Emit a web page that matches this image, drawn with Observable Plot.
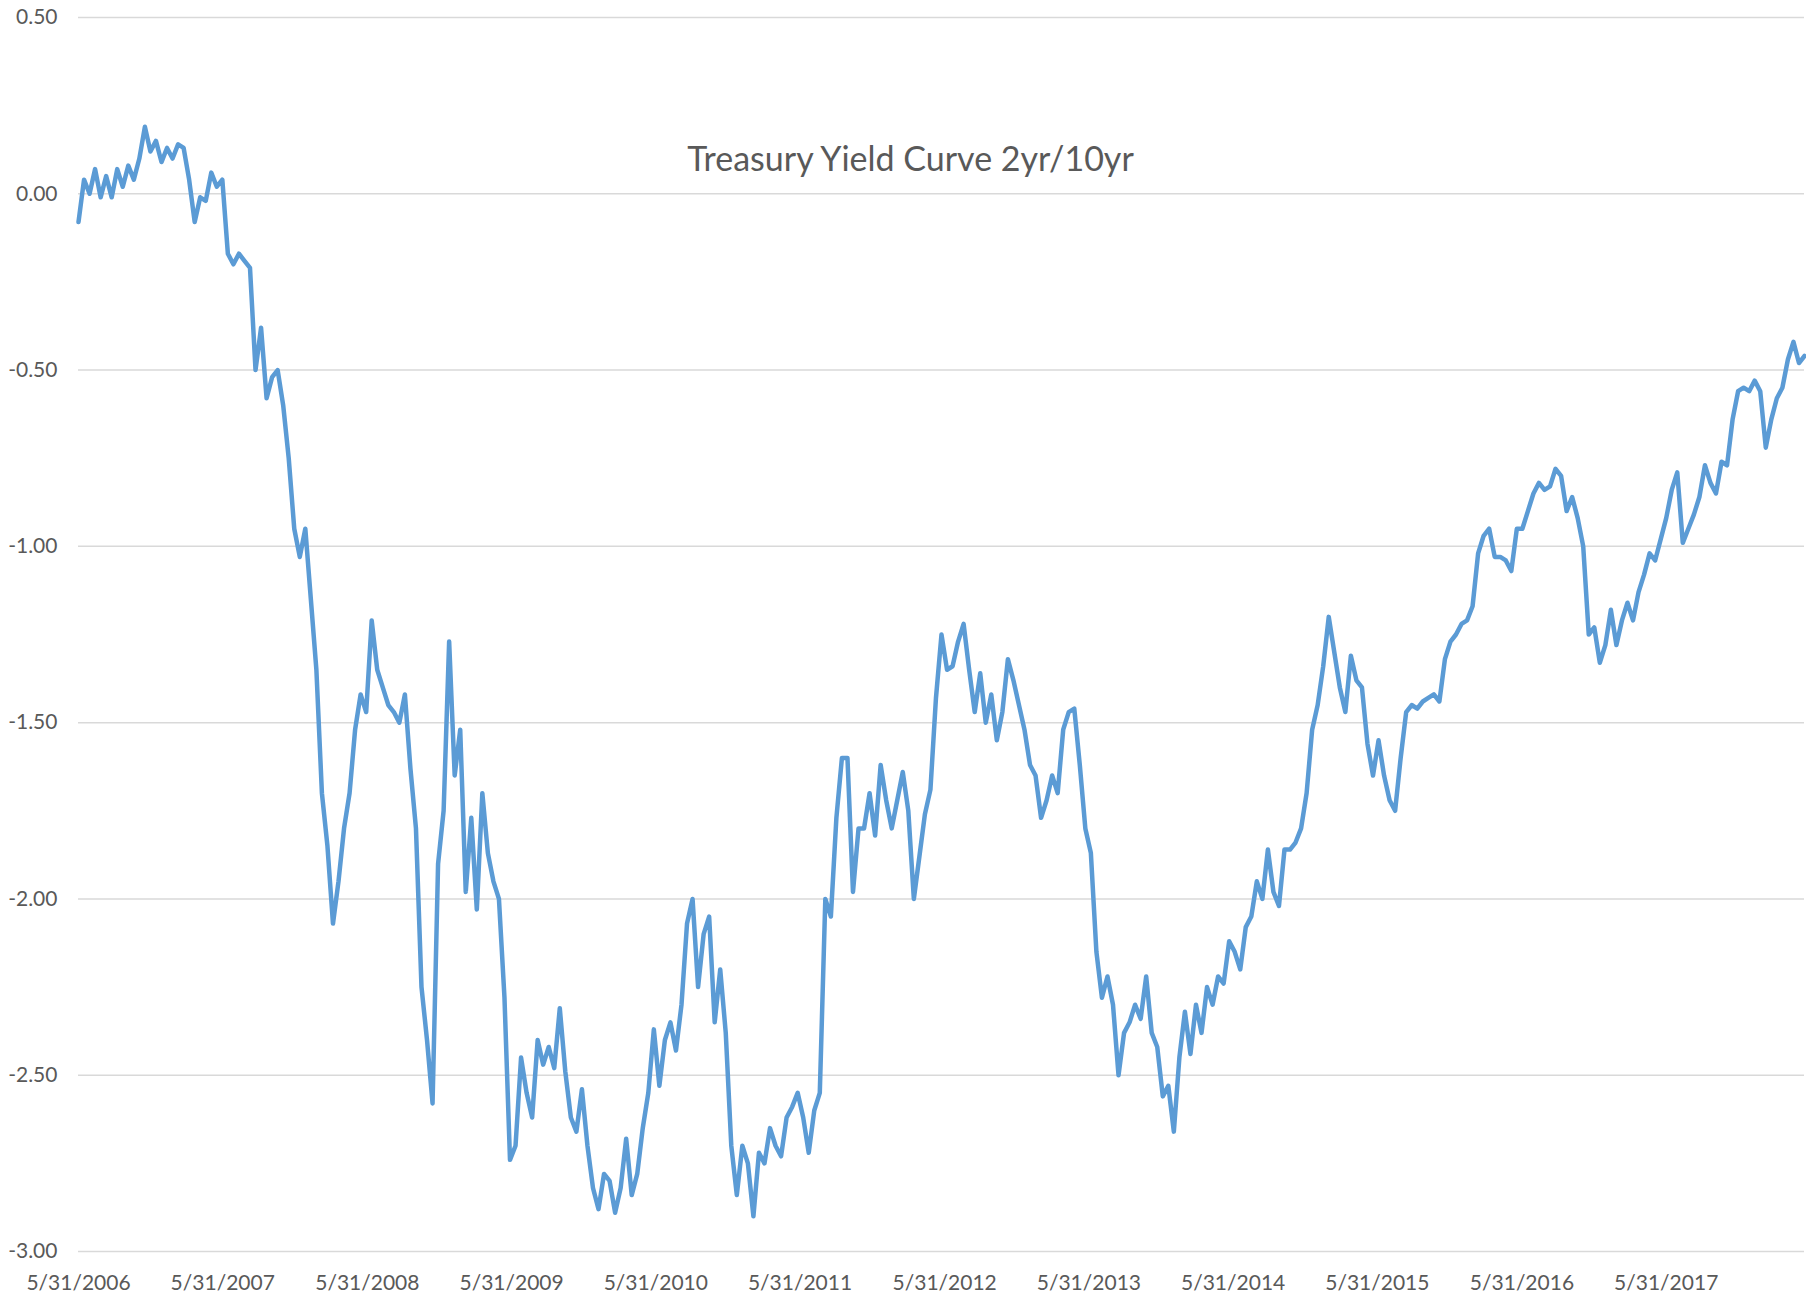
<!DOCTYPE html>
<html>
<head>
<meta charset="utf-8">
<script src="https://cdn.jsdelivr.net/npm/d3@7"></script>
<script src="https://cdn.jsdelivr.net/npm/@observablehq/plot@0.6"></script>
<style>
  html, body { margin: 0; padding: 0; background: #ffffff; }
  #chart { width: 1806px; height: 1297px; }
</style>
</head>
<body>
<div id="chart"></div>
<script>
const title = "Treasury Yield Curve 2yr/10yr";
const startDate = "2006-05-31";
const stepDays = 14;
const xTickLabels = ["2006-05-31","2007-05-31","2008-05-31","2009-05-31","2010-05-31","2011-05-31",
  "2012-05-31","2013-05-31","2014-05-31","2015-05-31","2016-05-31","2017-05-31"];
const yTicks = [0.5, 0, -0.5, -1, -1.5, -2, -2.5, -3];
const yDomain = [-3, 0.5];

// spread values, read every two weeks from the picture
const values = [
  // 2006-07
  -0.08, 0.04, 0.00, 0.07, -0.01, 0.05, -0.01, 0.07, 0.02, 0.08, 0.04, 0.10, 0.19, 0.12, 0.15, 0.09, 0.13, 0.10, 0.14, 0.13, 0.04, -0.08, -0.01, -0.02, 0.06, 0.02,
  // 2007-08
  0.04, -0.17, -0.20, -0.17, -0.19, -0.21, -0.50, -0.38, -0.58, -0.52, -0.50, -0.60, -0.75, -0.95, -1.03, -0.95, -1.15, -1.35, -1.70, -1.85, -2.07, -1.95, -1.80, -1.70, -1.52, -1.42,
  // 2008-09
  -1.47, -1.21, -1.35, -1.40, -1.45, -1.47, -1.50, -1.42, -1.63, -1.80, -2.25, -2.40, -2.58, -1.90, -1.75, -1.27, -1.65, -1.52, -1.98, -1.77, -2.03, -1.70, -1.87, -1.95, -2.00, -2.28,
  // 2009-10
  -2.74, -2.70, -2.45, -2.55, -2.62, -2.40, -2.47, -2.42, -2.48, -2.31, -2.49, -2.62, -2.66, -2.54, -2.70, -2.82, -2.88, -2.78, -2.80, -2.89, -2.82, -2.68, -2.84, -2.78, -2.65, -2.55,
  // 2010-11
  -2.37, -2.53, -2.40, -2.35, -2.43, -2.30, -2.07, -2.00, -2.25, -2.10, -2.05, -2.35, -2.20, -2.38, -2.70, -2.84, -2.70, -2.75, -2.90, -2.72, -2.75, -2.65, -2.70, -2.73, -2.62, -2.59,
  // 2011-12
  -2.55, -2.62, -2.72, -2.60, -2.55, -2.00, -2.05, -1.77, -1.60, -1.60, -1.98, -1.80, -1.80, -1.70, -1.82, -1.62, -1.72, -1.80, -1.72, -1.64, -1.75, -2.00, -1.88, -1.76, -1.69, -1.43,
  // 2012-13
  -1.25, -1.35, -1.34, -1.27, -1.22, -1.35, -1.47, -1.36, -1.50, -1.42, -1.55, -1.47, -1.32, -1.38, -1.45, -1.52, -1.62, -1.65, -1.77, -1.72, -1.65, -1.70, -1.52, -1.47, -1.46, -1.62,
  // 2013-14
  -1.80, -1.87, -2.15, -2.28, -2.22, -2.30, -2.50, -2.38, -2.35, -2.30, -2.34, -2.22, -2.38, -2.42, -2.56, -2.53, -2.66, -2.45, -2.32, -2.44, -2.30, -2.38, -2.25, -2.30, -2.22, -2.24,
  // 2014-15
  -2.12, -2.15, -2.20, -2.08, -2.05, -1.95, -2.00, -1.86, -1.98, -2.02, -1.86, -1.86, -1.84, -1.80, -1.70, -1.52, -1.45, -1.34, -1.20, -1.30, -1.40, -1.47, -1.31, -1.38, -1.40, -1.56,
  // 2015-16
  -1.65, -1.55, -1.65, -1.72, -1.75, -1.60, -1.47, -1.45, -1.46, -1.44, -1.43, -1.42, -1.44, -1.32, -1.27, -1.25, -1.22, -1.21, -1.17, -1.02, -0.97, -0.95, -1.03, -1.03, -1.04, -1.07,
  // 2016-17
  -0.95, -0.95, -0.90, -0.85, -0.82, -0.84, -0.83, -0.78, -0.80, -0.90, -0.86, -0.92, -1.00, -1.25, -1.23, -1.33, -1.28, -1.18, -1.28, -1.21, -1.16, -1.21, -1.13, -1.08, -1.02, -1.04,
  // 2017-18
  -0.98, -0.92, -0.84, -0.79, -0.99, -0.95, -0.91, -0.86, -0.77, -0.82, -0.85, -0.76, -0.77, -0.64, -0.56, -0.55, -0.56, -0.53, -0.56, -0.72, -0.64, -0.58, -0.55, -0.47, -0.42, -0.48, -0.46
];

const start = new Date(startDate + "T00:00:00Z");
const data = values.map((v, i) => ({ date: d3.utcDay.offset(start, i * stepDays), value: v }));
const xTicks = xTickLabels.map(s => new Date(s + "T00:00:00Z"));
const fmtDate = d => `${d.getUTCMonth() + 1}/${d.getUTCDate()}/${d.getUTCFullYear()}`;

const chart = Plot.plot({
  width: 1806,
  height: 1297,
  marginTop: 17,
  marginBottom: 46,
  marginLeft: 78,
  marginRight: 2,
  style: { fontFamily: "Lato, 'Open Sans', sans-serif", fontSize: "21px", color: "#595959", background: "#ffffff" },
  x: { type: "utc", domain: [data[0].date, data[data.length - 1].date] },
  y: { domain: yDomain },
  marks: [
    Plot.gridY(yTicks, { stroke: "#d9d9d9", strokeOpacity: 1, strokeWidth: 1.5 }),
    Plot.axisY(yTicks, { tickSize: 0, tickPadding: 21, tickFormat: d => d.toFixed(2), label: null, fontSize: 21, fill: "#595959" }),
    Plot.axisX(xTicks, { tickSize: 0, tickPadding: 24, tickFormat: fmtDate, label: null, fontSize: 21, fill: "#595959" }),
    Plot.line(data, { x: "date", y: "value", stroke: "#5b9bd5", strokeWidth: 4.5, strokeLinejoin: "round" }),
    Plot.text([title], { frameAnchor: "top", dx: -31, dy: 129, fontSize: 34, fill: "#595959", text: d => d })
  ]
});
document.getElementById("chart").appendChild(chart);
</script>
</body>
</html>
